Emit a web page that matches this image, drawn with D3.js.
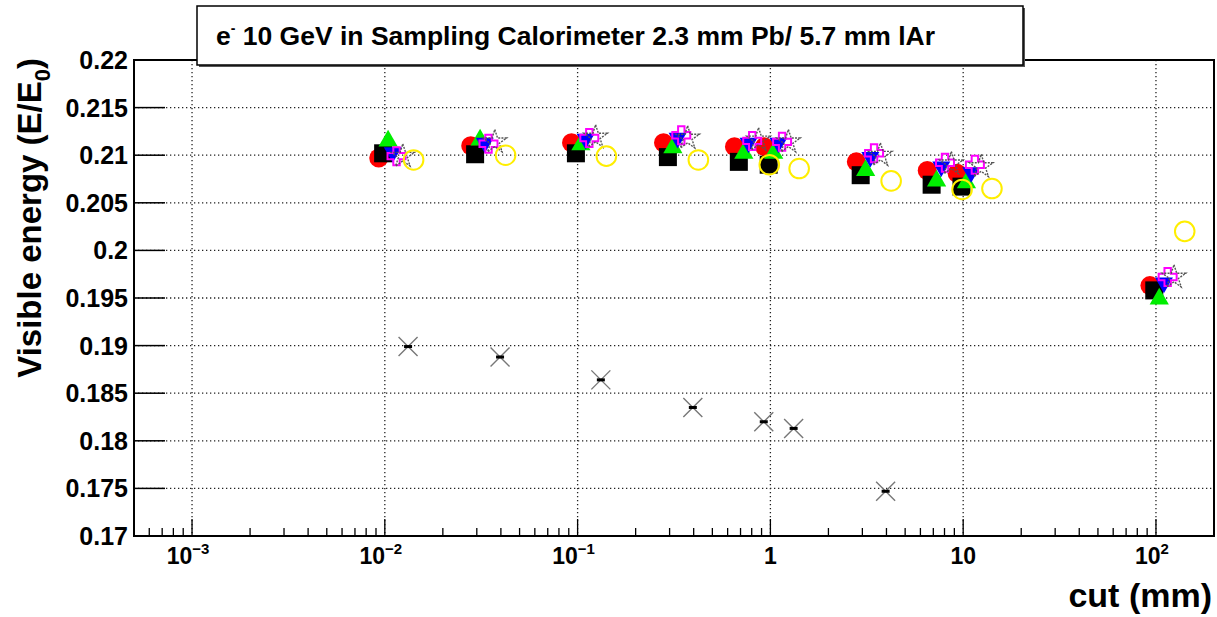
<!DOCTYPE html>
<html><head><meta charset="utf-8">
<script src="https://cdn.jsdelivr.net/npm/d3@7/dist/d3.min.js"></script>
<style>body{margin:0;background:#fff}svg{display:block}text{font-family:"Liberation Sans",Arial,Helvetica,sans-serif;font-weight:bold}</style>
</head><body><svg id="c" width="1217" height="617"></svg>
<script>
// ---- data ----
const cuts = [0.01, 0.03, 0.1, 0.3, 0.7, 1, 3, 7, 10, 100];
const redCircle   = [0.2097, 0.2110, 0.2113, 0.2113, 0.2109, 0.2109, 0.2093, 0.2084, 0.2081, 0.1963];
const blackSquare = [0.2102, 0.2101, 0.2102, 0.2098, 0.2093, 0.2090, 0.2079, 0.2069, 0.2067, 0.1958];
const greenTri    = [0.2115, 0.2116, 0.2111, 0.2108, 0.2102, 0.2102, 0.2084, 0.2073, 0.2071, 0.1949];
const blueTri     = [0.2103, 0.2113, 0.2117, 0.2118, 0.2113, 0.2113, 0.2098, 0.2088, 0.2082, 0.1966];
const magentaCross= [0.2099, 0.2112, 0.2118, 0.2121, 0.2115, 0.2114, 0.2102, 0.2092, 0.2090, 0.1972];
const greyStar    = [0.2099, 0.2114, 0.2119, 0.2118, 0.2116, 0.2114, 0.2100, 0.2091, 0.2088, 0.1972];
const yellowCircle= [0.2095, 0.2100, 0.2099, 0.2095, 0.2090, 0.2086, 0.2073, 0.2064, 0.2065, 0.2020];
const crossCuts   = [0.01, 0.03, 0.1, 0.3, 0.7, 1, 3];
const blackX      = [0.1899, 0.1888, 0.1864, 0.1835, 0.1820, 0.1813, 0.1747];
// x shift factor of each series relative to the cut value (as plotted)
const shiftFactors = {red:0.93, black:0.98, green:1.04, blue:1.10, magenta:1.15, star:1.24, x:1.32, yellow:1.41};
const yTicks = [0.17, 0.175, 0.18, 0.185, 0.19, 0.195, 0.2, 0.205, 0.21, 0.215, 0.22];
const xMajor = [1e-3, 1e-2, 1e-1, 1, 10, 100];
const xMajorLabels = [["10","-3"],["10","-2"],["10","-1"],["1",""],["10",""],["10","2"]];
const titleMain = "e", titleSup = "-", titleRest = " 10 GeV in Sampling Calorimeter 2.3 mm Pb/ 5.7 mm lAr";
const xTitle = "cut (mm)", yTitle = "Visible energy (E/E", yTitleSub = "0", yTitleEnd = ")";

// ---- layout ----
const L = 134, R = 1214, T = 60, B = 536;
const svg = d3.select("#c");
const x = d3.scaleLog().domain([5e-4, 200]).range([L, R]);
const y = d3.scaleLinear().domain([0.17, 0.22]).range([B, T]);

// grid
const grid = svg.append("g").attr("stroke", "#222").attr("stroke-width", 1.3).attr("stroke-dasharray", "1.3,2.7");
grid.selectAll(".gx").data(xMajor).join("line").attr("x1", d => x(d)).attr("x2", d => x(d)).attr("y1", T).attr("y2", B);
grid.selectAll(".gy").data(yTicks.slice(1, -1)).join("line").attr("x1", L).attr("x2", R).attr("y1", d => y(d)).attr("y2", d => y(d));

// x minor ticks
const minor = [];
for (let e = -4; e <= 2; e++) for (let m = 2; m <= 9; m++) { const v = m * Math.pow(10, e); if (v > 5e-4 && v < 200) minor.push(v); }
svg.append("g").attr("stroke", "#000").attr("stroke-width", 1.3).selectAll("line").data(minor).join("line")
  .attr("x1", d => x(d)).attr("x2", d => x(d)).attr("y1", B).attr("y2", B - 8);
svg.append("g").attr("stroke", "#000").attr("stroke-width", 1.3).selectAll("line").data(xMajor).join("line")
  .attr("x1", d => x(d)).attr("x2", d => x(d)).attr("y1", B).attr("y2", B - 17);
// y ticks
svg.append("g").attr("stroke", "#000").attr("stroke-width", 1.5).selectAll("line").data(yTicks).join("line")
  .attr("x1", L).attr("x2", L + 31).attr("y1", d => y(d)).attr("y2", d => y(d));

// y labels
svg.append("g").selectAll("text").data(yTicks).join("text")
  .attr("x", 128).attr("y", d => y(d) + 9).attr("text-anchor", "end").attr("font-size", 25)
  .text(d => d3.format("")(+d.toFixed(3)));
// x labels
const xl = svg.append("g").selectAll("text").data(xMajor).join("text")
  .attr("x", (d, i) => x(d) + (xMajorLabels[i][1] ? -4 : 0)).attr("y", 564).attr("text-anchor", "middle").attr("font-size", 23);
xl.append("tspan").text((d, i) => xMajorLabels[i][0]);
xl.append("tspan").attr("dy", -10).attr("font-size", 15).text((d, i) => xMajorLabels[i][1].replace("-", "\u2212"));

// frame
svg.append("rect").attr("x", L).attr("y", T).attr("width", R - L).attr("height", B - T)
  .attr("fill", "none").attr("stroke", "#000").attr("stroke-width", 2);

// axis titles
svg.append("text").attr("x", 1212).attr("y", 607).attr("text-anchor", "end").attr("font-size", 34).text(xTitle);
const yt = svg.append("text").attr("transform", "translate(41,58) rotate(-90)").attr("text-anchor", "end").attr("font-size", 33);
yt.append("tspan").text(yTitle);
yt.append("tspan").attr("dy", 9).attr("font-size", 22).text(yTitleSub);
yt.append("tspan").attr("dy", -9).text(yTitleEnd);

// ---- markers ----
const plot = svg.append("g");
function pts(vals, f, cs) { return vals.map((v, i) => ({x: x((cs || cuts)[i] * f), y: y(v)})); }
function sym(type, size) { return d3.symbol().type(type).size(size); }
// red circles
plot.append("g").selectAll("circle").data(pts(redCircle, shiftFactors.red)).join("circle")
  .attr("cx", d => d.x).attr("cy", d => d.y).attr("r", 9.5).attr("fill", "#ff0000");
// black squares
plot.append("g").selectAll("rect").data(pts(blackSquare, shiftFactors.black)).join("rect")
  .attr("x", d => d.x - 9).attr("y", d => d.y - 9).attr("width", 18).attr("height", 18).attr("fill", "#000");
// green triangles
plot.append("g").selectAll("path").data(pts(greenTri, shiftFactors.green)).join("path")
  .attr("transform", d => `translate(${d.x},${d.y})`).attr("d", sym(d3.symbolTriangle, 160)).attr("fill", "#00ee00");
// blue inverted triangles
plot.append("g").selectAll("path").data(pts(blueTri, shiftFactors.blue)).join("path")
  .attr("transform", d => `translate(${d.x},${d.y}) rotate(180)`).attr("d", sym(d3.symbolTriangle, 140)).attr("fill", "#0000ff");
// magenta open crosses
const crossPath = (s, w) => `M${-w},${-s}H${w}V${-w}H${s}V${w}H${w}V${s}H${-w}V${w}H${-s}V${-w}H${-w}Z`;
plot.append("g").selectAll("path").data(pts(magentaCross, shiftFactors.magenta)).join("path")
  .attr("transform", d => `translate(${d.x},${d.y})`).attr("d", crossPath(9, 3.2))
  .attr("fill", "none").attr("stroke", "#ff00ff").attr("stroke-width", 2);
// grey open stars
plot.append("g").selectAll("path").data(pts(greyStar, shiftFactors.star)).join("path")
  .attr("transform", d => `translate(${d.x},${d.y})`).attr("d", sym(d3.symbolStar, 170))
  .attr("fill", "none").attr("stroke", "#555").attr("stroke-width", 1.4).attr("stroke-dasharray", "2,1.2");
// black X
const gx = plot.append("g").selectAll("g").data(pts(blackX, shiftFactors.x, crossCuts)).join("g")
  .attr("transform", d => `translate(${d.x},${d.y})`);
gx.append("path").attr("d", "M-9.5,-9.5L9.5,9.5M-9.5,9.5L9.5,-9.5").attr("stroke", "#777").attr("stroke-width", 1.4);
gx.append("rect").attr("x", -4).attr("y", -1.5).attr("width", 8).attr("height", 3).attr("fill", "#000");
// yellow open circles
plot.append("g").selectAll("circle").data(pts(yellowCircle, shiftFactors.yellow)).join("circle")
  .attr("cx", d => d.x).attr("cy", d => d.y).attr("r", 9.8).attr("fill", "none").attr("stroke", "#ffee00").attr("stroke-width", 2);

// title box
svg.append("rect").attr("x", 199).attr("y", 8).attr("width", 826).attr("height", 59).attr("fill", "#555");
svg.append("rect").attr("x", 197).attr("y", 6).attr("width", 826).attr("height", 59)
  .attr("fill", "#fff").attr("stroke", "#000").attr("stroke-width", 1.5);
const tt = svg.append("text").attr("x", 216).attr("y", 45).attr("font-size", 26.5);
tt.append("tspan").text(titleMain);
tt.append("tspan").attr("dy", -12).attr("font-size", 14).text(titleSup);
tt.append("tspan").attr("dy", 12).text(titleRest);
</script></body></html>
